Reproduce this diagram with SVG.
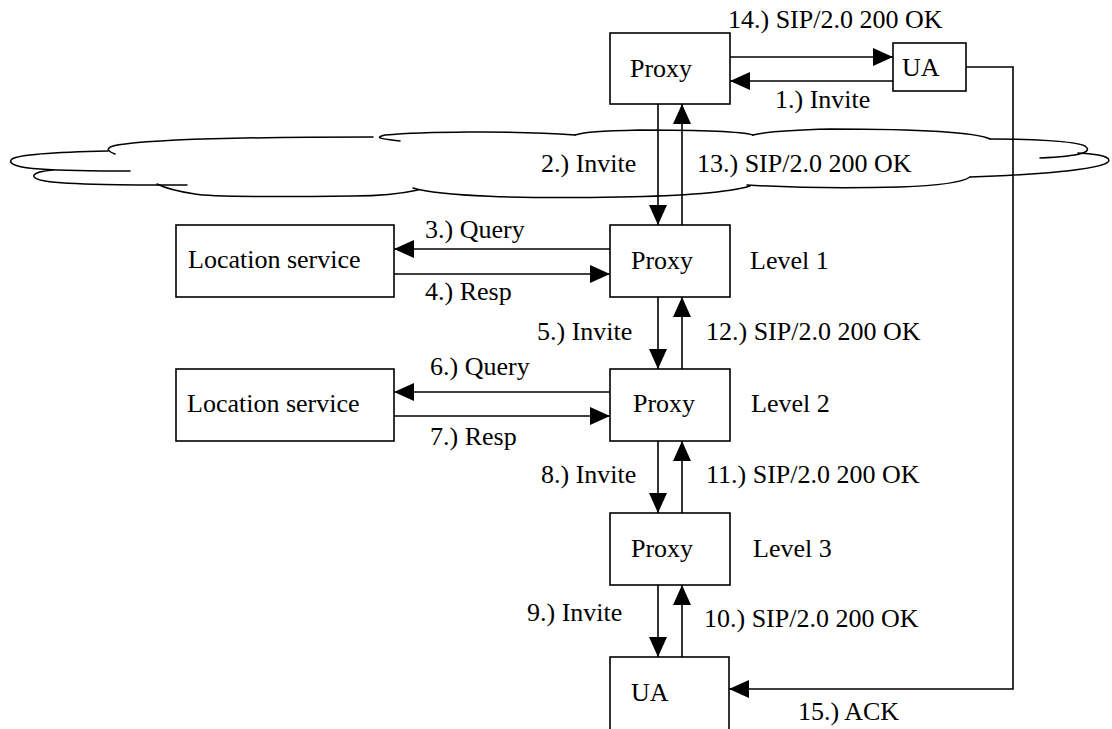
<svg xmlns="http://www.w3.org/2000/svg" width="1112" height="729" viewBox="0 0 1112 729">
<style>
  .box { fill: #fff; stroke: #000; stroke-width: 1.6; }
  .ln { fill: none; stroke: #000; stroke-width: 1.6; }
  .cl { fill: none; stroke: #000; stroke-width: 1.5; stroke-linecap: round; }
</style>
<defs>
  <marker id="ah" viewBox="0 0 20 18" refX="20" refY="9" markerWidth="20" markerHeight="18" markerUnits="userSpaceOnUse" orient="auto">
    <path d="M0,0 L20,9 L0,18 z" fill="#000"/>
  </marker>
</defs>
<rect width="1112" height="729" fill="#fff"/>

<g id="cloud">
  <path class="cl" d="M115,154 C104,150 106,146 125,144 C165,139 260,137 373,137"/>
  <path class="cl" d="M400,141 C384,139 372,138 385,135 C420,132 510,130 575,135"/>
  <path class="cl" d="M575,135 C585,132 600,131 640,130 C700,130 740,131 753,135"/>
  <path class="cl" d="M753,135 C765,132 790,130 830,129 C920,129 975,132 990,139"/>
  <path class="cl" d="M990,139 C1030,139 1075,141 1085,146 C1093,152 1082,156 1040,158"/>
  <path class="cl" d="M1078,153 C1100,154 1112,157 1108,162 C1100,170 1030,175 970,177"/>
  <path class="cl" d="M970,177 C960,184 930,186 900,187 C830,189 780,187 747,185"/>
  <path class="cl" d="M750,186 C730,192 680,196 620,197 C520,199 440,196 413,188"/>
  <path class="cl" d="M418,190 C400,194 380,196 353,196 C270,197 210,197 195,194 C175,191 165,188 157,184"/>
  <path class="cl" d="M53,170 C30,172 28,178 45,181 C70,185 130,185 187,185"/>
  <path class="cl" d="M108,151 C60,152 20,154 12,159 C6,164 20,168 40,169 C70,171 100,171 130,171"/>
</g>

<g id="connectors">
  <line class="ln" x1="730" y1="57" x2="893" y2="57" marker-end="url(#ah)"/>
  <line class="ln" x1="893" y1="81" x2="730" y2="81" marker-end="url(#ah)"/>
  <polyline class="ln" points="966,67 1013,67 1013,689 729,689" marker-end="url(#ah)"/>
  <line class="ln" x1="658" y1="104" x2="658" y2="225" marker-end="url(#ah)"/>
  <line class="ln" x1="682" y1="225" x2="682" y2="104" marker-end="url(#ah)"/>
  <line class="ln" x1="610" y1="249" x2="394" y2="249" marker-end="url(#ah)"/>
  <line class="ln" x1="394" y1="274" x2="610" y2="274" marker-end="url(#ah)"/>
  <line class="ln" x1="658" y1="297" x2="658" y2="369" marker-end="url(#ah)"/>
  <line class="ln" x1="682" y1="369" x2="682" y2="297" marker-end="url(#ah)"/>
  <line class="ln" x1="610" y1="392" x2="394" y2="392" marker-end="url(#ah)"/>
  <line class="ln" x1="394" y1="416" x2="610" y2="416" marker-end="url(#ah)"/>
  <line class="ln" x1="658" y1="441" x2="658" y2="513" marker-end="url(#ah)"/>
  <line class="ln" x1="682" y1="513" x2="682" y2="441" marker-end="url(#ah)"/>
  <line class="ln" x1="658" y1="585" x2="658" y2="657" marker-end="url(#ah)"/>
  <line class="ln" x1="682" y1="657" x2="682" y2="585" marker-end="url(#ah)"/>
</g>

<g id="labels">
  <text x="728" y="28" font-size="26" font-family="serif">14.) SIP/2.0 200 OK</text>
  <text x="775" y="108" font-size="26" font-family="serif">1.) Invite</text>
  <text x="541" y="172" font-size="26" font-family="serif">2.) Invite</text>
  <text x="697" y="172" font-size="26" font-family="serif">13.) SIP/2.0 200 OK</text>
  <text x="425" y="238" font-size="26" font-family="serif">3.) Query</text>
  <text x="425" y="300" font-size="26" font-family="serif">4.) Resp</text>
  <text x="537" y="340" font-size="26" font-family="serif">5.) Invite</text>
  <text x="706" y="340" font-size="26" font-family="serif">12.) SIP/2.0 200 OK</text>
  <text x="430" y="375" font-size="26" font-family="serif">6.) Query</text>
  <text x="430" y="445" font-size="26" font-family="serif">7.) Resp</text>
  <text x="541" y="483" font-size="26" font-family="serif">8.) Invite</text>
  <text x="706" y="483" font-size="26" font-family="serif">11.) SIP/2.0 200 OK</text>
  <text x="527" y="621" font-size="26" font-family="serif">9.) Invite</text>
  <text x="704" y="627" font-size="26" font-family="serif">10.) SIP/2.0 200 OK</text>
  <text x="798" y="720" font-size="26" font-family="serif">15.) ACK</text>
  <text x="750" y="269" font-size="26" font-family="serif">Level 1</text>
  <text x="751" y="412" font-size="26" font-family="serif">Level 2</text>
  <text x="753" y="557" font-size="26" font-family="serif">Level 3</text>
</g>

<g id="proxy-top">
  <rect class="box" x="610" y="33" width="120" height="71"/>
  <text x="630" y="77" font-size="26" font-family="serif">Proxy</text>
</g>
<g id="ua-top">
  <rect class="box" x="893" y="43" width="73" height="48"/>
  <text x="902" y="76" font-size="26" font-family="serif">UA</text>
</g>
<g id="location-1">
  <rect class="box" x="176" y="225" width="218" height="72"/>
  <text x="188" y="268" font-size="26" font-family="serif">Location service</text>
</g>
<g id="proxy-l1">
  <rect class="box" x="610" y="225" width="120" height="72"/>
  <text x="631" y="269" font-size="26" font-family="serif">Proxy</text>
</g>
<g id="location-2">
  <rect class="box" x="176" y="369" width="218" height="72"/>
  <text x="187" y="412" font-size="26" font-family="serif">Location service</text>
</g>
<g id="proxy-l2">
  <rect class="box" x="610" y="369" width="120" height="72"/>
  <text x="633" y="412" font-size="26" font-family="serif">Proxy</text>
</g>
<g id="proxy-l3">
  <rect class="box" x="610" y="513" width="120" height="72"/>
  <text x="631" y="557" font-size="26" font-family="serif">Proxy</text>
</g>
<g id="ua-bottom">
  <rect class="box" x="610" y="657" width="119" height="80"/>
  <text x="631" y="701" font-size="26" font-family="serif">UA</text>
</g>
</svg>
